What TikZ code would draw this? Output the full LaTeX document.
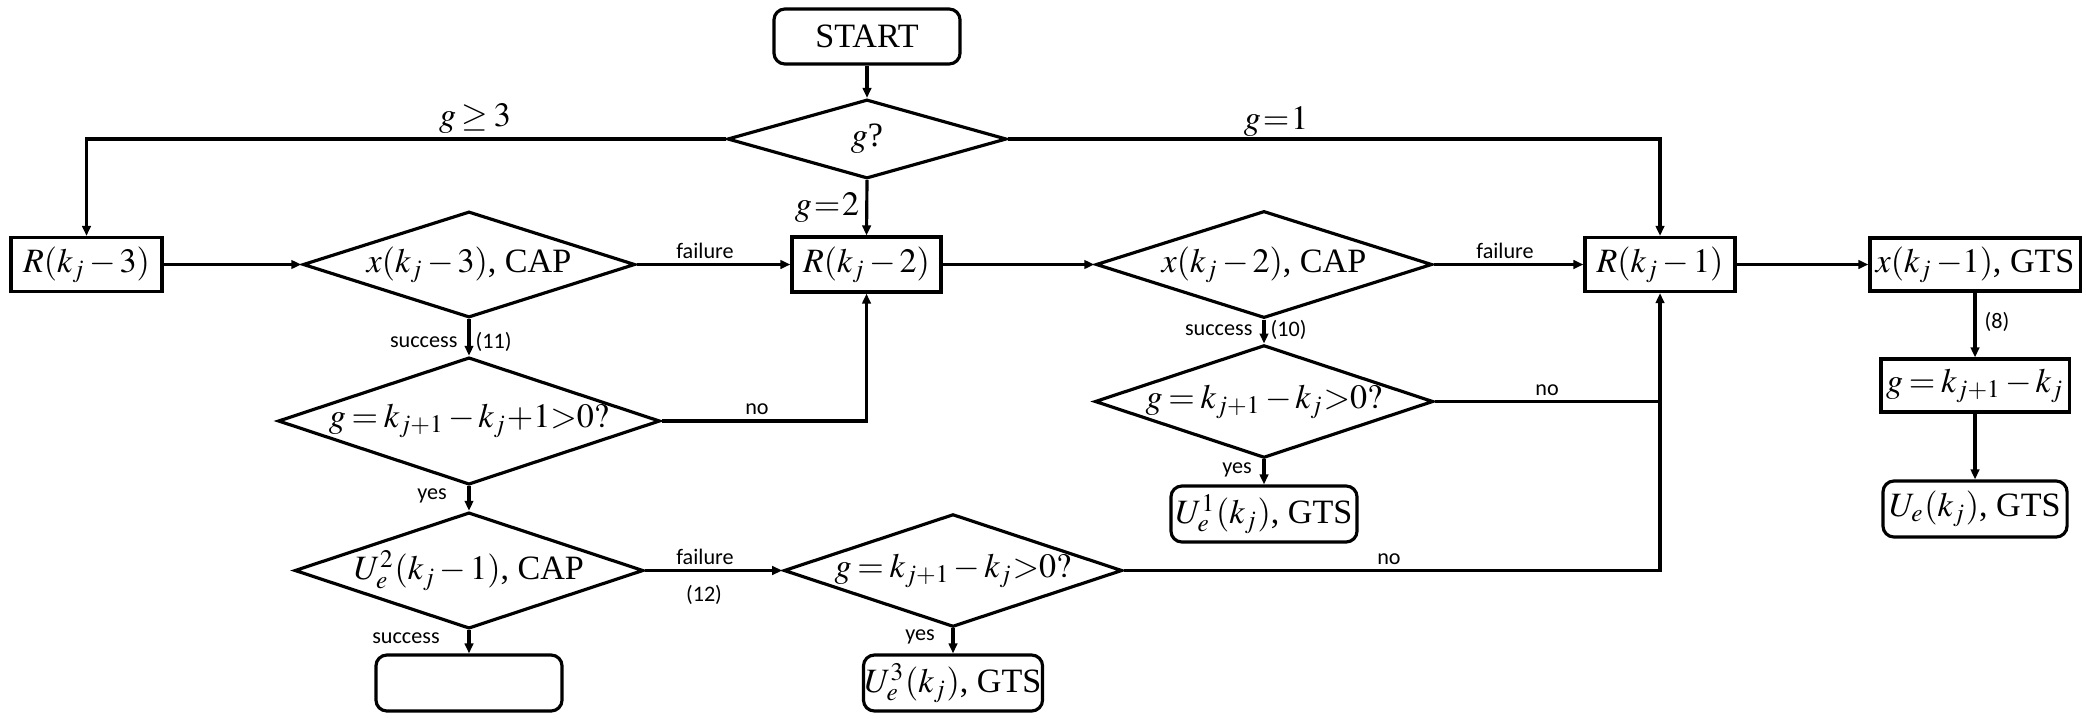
\documentclass[tikz,border=0pt]{standalone}
\usepackage{mathptmx}
\usepackage{fontspec}
\setmainfont{Liberation Serif}
\newfontfamily\lblfont{Carlito}
\usetikzlibrary{shapes.geometric,arrows.meta}
\begin{document}
\medmuskip=2mu plus 1mu\relax
\thickmuskip=3mu plus 1mu\relax
\begin{tikzpicture}[x=0.01cm,y=-0.01cm, line width=0.9pt,
  >={Triangle[length=1.0mm,width=0.85mm]},
  every node/.style={font=\fontsize{9.7}{11}\selectfont},
  procbox/.style={draw, rectangle, inner sep=0pt},
  termbox/.style={draw, rectangle, rounded corners=0.11cm, inner sep=0pt},
  decision/.style={draw, diamond, inner sep=0pt, shape aspect=3},
  lbl/.style={font=\lblfont\fontsize{6.3}{7}\selectfont, inner sep=0pt},
  glbl/.style={font=\fontsize{9.7}{11}\selectfont, inner sep=0pt}]
\useasboundingbox (0,0) rectangle (2086,718);
% nodes
\node[termbox, minimum width=1.86cm, minimum height=0.55cm] (start) at (867,36.5) {START};
\node[decision, minimum width=2.79cm, minimum height=0.79cm] (gq) at (867,139) {$g$?};
\node[procbox, minimum width=1.51cm, minimum height=0.54cm] (r3) at (86.5,264.5) {$R(k_j-3)$};
\node[decision, minimum width=3.32cm, minimum height=1.06cm] (x3) at (469,264.5) {$x(k_j-3)$, CAP};
\node[procbox, minimum width=1.49cm, minimum height=0.55cm] (r2) at (866.5,264.5) {$R(k_j-2)$};
\node[decision, minimum width=3.36cm, minimum height=1.07cm] (x2) at (1264,264.5) {$x(k_j-2)$, CAP};
\node[procbox, minimum width=1.50cm, minimum height=0.54cm] (r1) at (1660,264.5) {$R(k_j-1)$};
\node[procbox, minimum width=2.10cm, minimum height=0.53cm] (xg) at (1975,264.5) {$x(k_j\,{-}1)$, GTS};
\node[decision, minimum width=3.69cm, minimum height=1.08cm] (d1) at (469,421) {$g=k_{j+1}-k_j{+}1{>}0?$};
\node[decision, minimum width=3.34cm, minimum height=1.09cm] (u2) at (469,570.5) {$U_e^2(k_j-1)$, CAP};
\node[termbox, minimum width=1.86cm, minimum height=0.56cm] (e) at (469,683) {};
\node[decision, minimum width=3.36cm, minimum height=1.09cm] (d3) at (953,570.5) {$g=k_{j+1}-k_j{>}0?$};
\node[termbox, minimum width=1.79cm, minimum height=0.56cm] (u3) at (953,683) {$U_e^3(k_j)$, GTS};
\node[decision, minimum width=3.36cm, minimum height=1.09cm] (d2) at (1264,401.5) {$g=k_{j+1}-k_j{>}0?$};
\node[termbox, minimum width=1.86cm, minimum height=0.56cm] (u1) at (1264,514) {$U_e^1(k_j)$, GTS};
\node[procbox, minimum width=1.88cm, minimum height=0.53cm] (gb) at (1975,385.5) {$g=k_{j+1}-k_j$};
\node[termbox, minimum width=1.84cm, minimum height=0.56cm] (ue) at (1975,509) {$U_e(k_j)$, GTS};
% connectors
\draw[->] (start) -- (gq);
\draw[->] (gq.west) -| (r3.north);
\draw[->] (gq.east) -| (r1.north);
\draw[->] (gq.south) -- (r2.north);
\draw[->] (r3.east) -- (x3.west);
\draw[->] (x3.east) -- (r2.west);
\draw[->] (r2.east) -- (x2.west);
\draw[->] (x2.east) -- (r1.west);
\draw[->] (r1.east) -- (xg.west);
\draw[->] (x3.south) -- (d1.north);
\draw[->] (d1.east) -| (r2.south);
\draw[->] (d1.south) -- (u2.north);
\draw[->] (u2.east) -- (d3.west);
\draw[->] (u2.south) -- (e.north);
\draw[->] (d3.south) -- (u3.north);
\draw[->] (d3.east) -| (r1.south);
\draw[->] (x2.south) -- (d2.north);
\coordinate (j1) at (d2.east -| r1.south);
\draw (d2.east) -- (j1);
\draw[->] (d2.south) -- (u1.north);
\draw[->] (xg.south) -- (gb.north);
\draw[->] (gb.south) -- (ue.north);
% labels
\node[glbl] (lg3) at (475,119) {$g \geq 3$};
\node[glbl] (lg1) at (1276,122) {$g\!=\!1$};
\node[glbl] (lg2) at (827,208) {$g\!=\!2$};
\node[lbl] (f1) at (705,251) {failure};
\node[lbl] (f2) at (1505,251) {failure};
\node[lbl] (f3) at (705,557) {failure};
\node[lbl, anchor=east] (s1) at (459,342) {success};
\node[lbl, anchor=west] (n11) at (474,342) {(11)};
\node[lbl, anchor=east] (s2) at (1254,330) {success};
\node[lbl, anchor=west] (n10) at (1269,330) {(10)};
\node[lbl] (no1) at (757,409) {no};
\node[lbl] (y1) at (432,496) {yes};
\node[lbl] (n12) at (704,595) {(12)};
\node[lbl] (s3) at (406,638) {success};
\node[lbl] (y3) at (920,637) {yes};
\node[lbl] (no2) at (1547,390) {no};
\node[lbl] (y2) at (1237,470) {yes};
\node[lbl] (no3) at (1389,559) {no};
\node[lbl] (n8) at (1997,322) {(8)};
\end{tikzpicture}
\end{document}
